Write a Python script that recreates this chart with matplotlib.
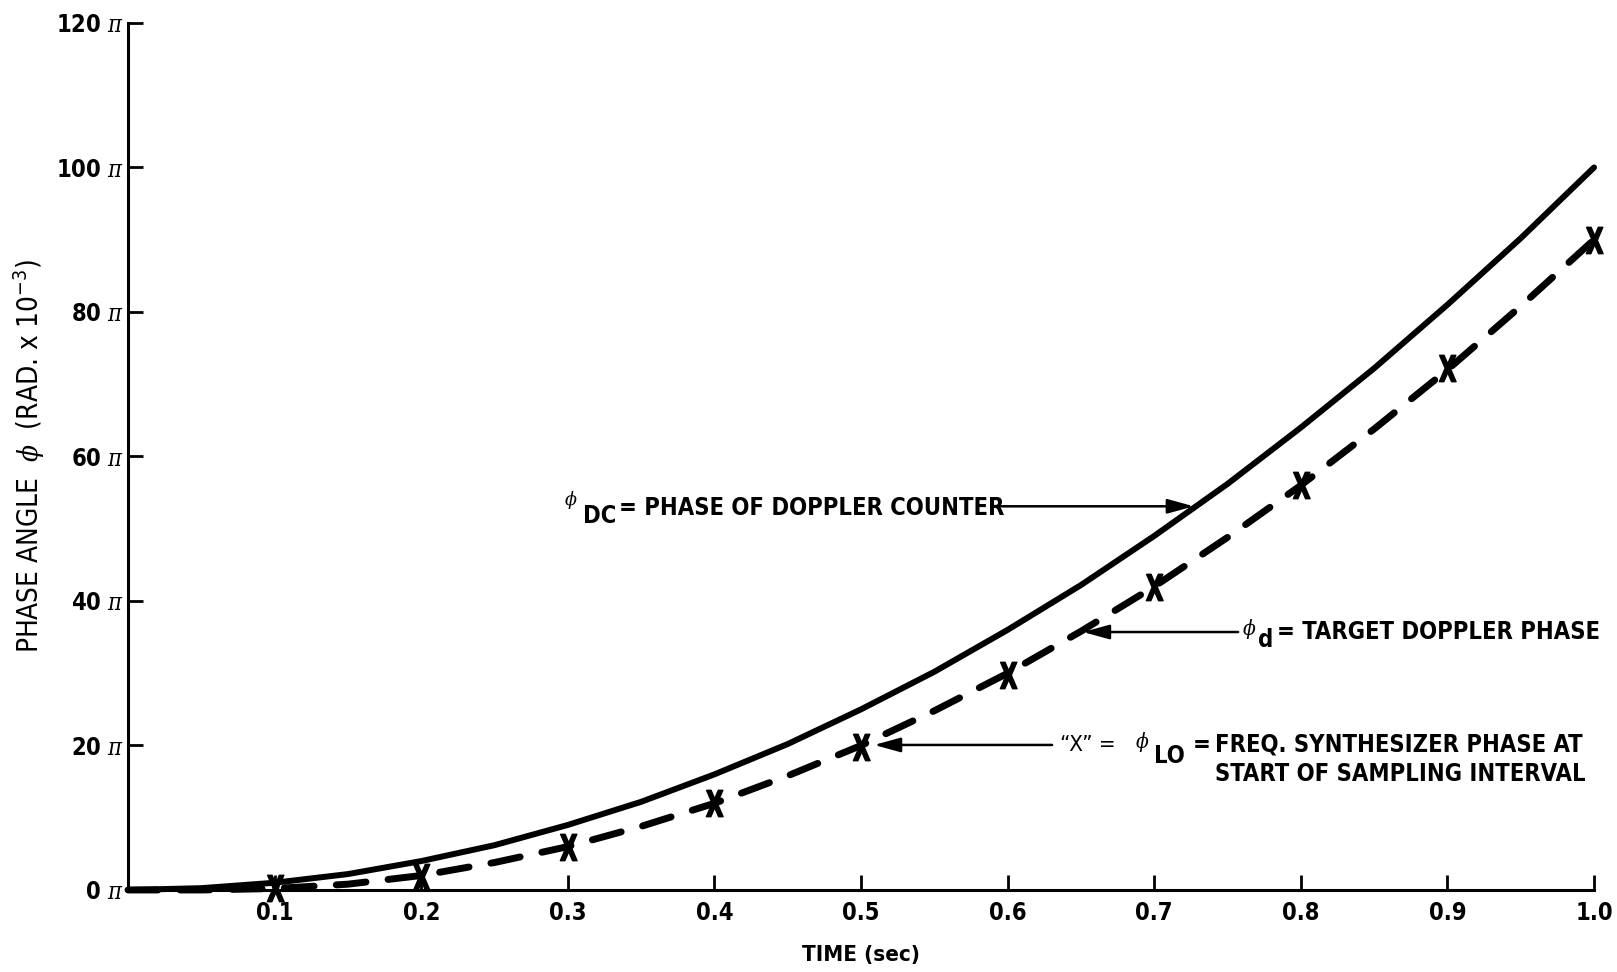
import matplotlib.pyplot as plt
from matplotlib.font_manager import FontProperties
from matplotlib.textpath import TextPath
from matplotlib.path import Path

plt.rcParams['font.family'] = ['DejaVu Sans']
plt.rcParams['font.stretch'] = 'condensed'
plt.rcParams['mathtext.fontset'] = 'custom'
plt.rcParams['mathtext.it'] = 'DejaVu Serif:italic'

# phase of doppler counter (solid), in units of pi
t_dc = [0.0, 0.05, 0.1, 0.15, 0.2, 0.25, 0.3, 0.35, 0.4, 0.45, 0.5,
        0.55, 0.6, 0.65, 0.7, 0.75, 0.8, 0.85, 0.9, 0.95, 1.0]
phi_dc = [0.0, 0.25, 1.0, 2.2, 4.0, 6.2, 9.0, 12.2, 16.0, 20.2, 25.0,
          30.2, 36.0, 42.2, 49.0, 56.2, 64.0, 72.2, 81.0, 90.2, 100.0]

# target doppler phase (dashed)
t_d = [0.0, 0.05, 0.1, 0.15, 0.2, 0.25, 0.3, 0.35, 0.4, 0.45, 0.5,
       0.55, 0.6, 0.65, 0.7, 0.75, 0.8, 0.85, 0.9, 0.95, 1.0]
phi_d = [0.0, 0.0, 0.2, 0.8, 2.0, 3.8, 6.0, 8.8, 12.0, 15.8, 20.0,
         24.8, 30.0, 35.8, 42.0, 48.8, 56.0, 63.8, 72.0, 80.8, 90.0]

# "X" marks = synthesizer phase at start of sampling interval
t_lo = [0.1, 0.2, 0.3, 0.4, 0.5, 0.6, 0.7, 0.8, 0.9, 1.0]
phi_lo = [0.3, 1.8, 6.0, 12.0, 19.8, 29.8, 42.0, 56.0, 72.2, 90.0]

xticks = [0.1, 0.2, 0.3, 0.4, 0.5, 0.6, 0.7, 0.8, 0.9, 1.0]
yticks = [0, 20, 40, 60, 80, 100, 120]

# narrow bold X used as marker
tp = TextPath((0, 0), 'X', prop=FontProperties(family='DejaVu Sans', weight='bold'))
v = tp.vertices.copy()
v[:, 0] -= (v[:, 0].min() + v[:, 0].max()) / 2
v[:, 1] -= (v[:, 1].min() + v[:, 1].max()) / 2
v[:, 0] *= 0.7
x_marker = Path(v, tp.codes)

fig = plt.figure(figsize=(16.17, 9.72), dpi=100)
ax = fig.add_axes([0.0792, 0.0844, 0.9066, 0.892])

ax.plot(t_dc, phi_dc, color='black', lw=4.3, solid_capstyle='round', clip_on=False)
ax.plot(t_d, phi_d, color='black', lw=5, dashes=(4.3, 3.2), dash_capstyle='round', clip_on=False)
ax.plot(t_lo, phi_lo, linestyle='none', marker=x_marker, markersize=19,
        color='black', clip_on=False, zorder=5)

ax.set_xlim(0, 1.0)
ax.set_ylim(0, 120)
ax.spines['top'].set_visible(False)
ax.spines['right'].set_visible(False)
ax.spines['left'].set_linewidth(2.2)
ax.spines['bottom'].set_linewidth(2.2)

ax.set_xticks(xticks)
ax.set_xticklabels([f'{x:.1f}' for x in xticks])
ax.set_yticks(yticks)
ax.set_yticklabels([f'{y} $\\pi$' for y in yticks])
ax.tick_params(direction='in', length=11, width=2, labelsize=17)
ax.tick_params(axis='x', pad=8)
ax.tick_params(axis='y', pad=3)
for lab in ax.get_xticklabels() + ax.get_yticklabels():
    lab.set_fontweight('bold')

ax.set_xlabel('TIME (sec)', fontsize=16, fontweight='bold', labelpad=14)
ax.set_ylabel(r'PHASE ANGLE  $\phi$  (RAD. x 10$^{-3}$)', fontsize=20)
ax.yaxis.set_label_coords(-0.055, 0.5)

arrow = dict(arrowstyle='-|>,head_length=0.8,head_width=0.22', lw=1.8,
             color='black', shrinkA=0, shrinkB=0, mutation_scale=20)
bold = dict(fontsize=17, fontweight='bold', va='center', ha='left')

# phi_DC label
ax.text(0.2975, 54.0, r'$\phi$', fontsize=14, va='center', ha='left')
ax.text(0.3105, 51.7, 'DC', **bold)
ax.text(0.3352, 52.9, '= PHASE OF DOPPLER COUNTER', **bold)
ax.annotate('', xy=(0.727, 53.1), xytext=(0.5948, 53.1), arrowprops=arrow)

# phi_d label
ax.text(0.760, 36.1, r'$\phi$', fontsize=15, va='center', ha='left')
ax.text(0.771, 34.6, 'd', **bold)
ax.text(0.7835, 35.7, '= TARGET DOPPLER PHASE', **bold)
ax.annotate('', xy=(0.6514, 35.7), xytext=(0.7572, 35.7), arrowprops=arrow)

# phi_LO label
ax.text(0.6357, 20.07, '\u201cX\u201d =', fontsize=16, va='center', ha='left')
ax.text(0.6869, 20.5, r'$\phi$', fontsize=15, va='center', ha='left')
ax.text(0.6995, 18.5, 'LO', **bold)
ax.text(0.7265, 20.07, '=', **bold)
ax.text(0.7415, 20.07, 'FREQ. SYNTHESIZER PHASE AT', **bold)
ax.text(0.7415, 16.06, 'START OF SAMPLING INTERVAL', **bold)
ax.annotate('', xy=(0.5089, 20.07), xytext=(0.6303, 20.07), arrowprops=arrow)

fig.savefig('out.png', dpi=100)
